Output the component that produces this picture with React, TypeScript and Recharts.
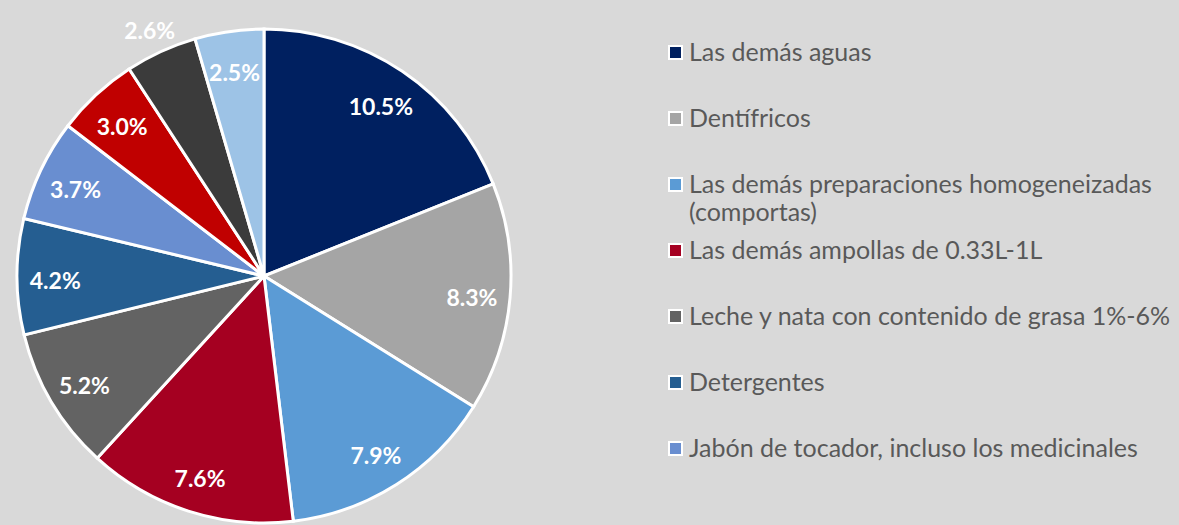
import { PieChart, Pie, Cell, Legend } from "recharts";

document.body.style.margin = "0";

const names = [
  "Las demás aguas",
  "Dentífricos",
  "Las demás preparaciones homogeneizadas (comportas)",
  "Las demás ampollas de 0.33L-1L",
  "Leche y nata con contenido de grasa 1%-6%",
  "Detergentes",
  "Jabón de tocador, incluso los medicinales",
  "Producto 8",
  "Producto 9",
  "Producto 10",
];
const shares = [10.5, 8.3, 7.9, 7.6, 5.2, 4.2, 3.7, 3.0, 2.6, 2.5];
const colors = [
  "#002060", "#a5a5a5", "#5b9bd5", "#a50021", "#636363",
  "#255e91", "#698ed0", "#c00000", "#3b3b3b", "#9dc3e6",
];
// the reference legend is cut off after the seventh entry
const legendCount = 7;

const data = names.map((name, i) => ({ name, value: shares[i] }));

const RAD = Math.PI / 180;

const renderLabel = (props: any) => {
  const { cx, cy, midAngle, outerRadius, index, value } = props;
  const r = index === 8 ? outerRadius + 27 : outerRadius * 0.845;
  const x = cx + r * Math.cos(-midAngle * RAD);
  const y = cy + 3 + r * Math.sin(-midAngle * RAD);
  return (
    <text
      x={x}
      y={y}
      fill="#ffffff"
      textAnchor="middle"
      dominantBaseline="central"
      fontFamily="Lato, sans-serif"
      fontWeight={700}
      fontSize={23}
    >
      {`${value.toFixed(1)}%`}
    </text>
  );
};

const renderLegend = (props: any) => {
  const items = [...(props.payload || [])]
    .sort((a: any, b: any) => names.indexOf(a.value) - names.indexOf(b.value))
    .slice(0, legendCount);
  return (
    <div style={{ fontFamily: "Lato, sans-serif", fontSize: 25, color: "#595959" }}>
      {items.map((it: any, i: number) => (
        <div
          key={i}
          style={{ display: "flex", alignItems: "flex-start", height: 66, lineHeight: "28px" }}
        >
          <span
            style={{
              display: "inline-block",
              width: 11,
              height: 11,
              background: it.color,
              border: "2px solid #ffffff",
              marginTop: 8,
              marginRight: 6,
              flexShrink: 0,
            }}
          />
          <span style={{ maxWidth: 488 }}>{it.value}</span>
        </div>
      ))}
    </div>
  );
};

export default function App() {
  return (
    <div style={{ width: 1179, height: 525, background: "#d9d9d9", overflow: "hidden" }}>
      <PieChart width={1179} height={525} margin={{ top: 0, right: 0, bottom: 0, left: 0 }}>
        <Pie
          data={data}
          dataKey="value"
          nameKey="name"
          cx={264}
          cy={276}
          outerRadius={247}
          startAngle={90}
          endAngle={-270}
          stroke="#ffffff"
          strokeWidth={3}
          label={renderLabel}
          labelLine={false}
          isAnimationActive={false}
        >
          {data.map((d, i) => (
            <Cell key={d.name} fill={colors[i]} />
          ))}
        </Pie>
        <Legend
          layout="vertical"
          verticalAlign="top"
          align="right"
          content={renderLegend}
          wrapperStyle={{ left: 668, top: 37, width: 511 }}
        />
      </PieChart>
    </div>
  );
}
